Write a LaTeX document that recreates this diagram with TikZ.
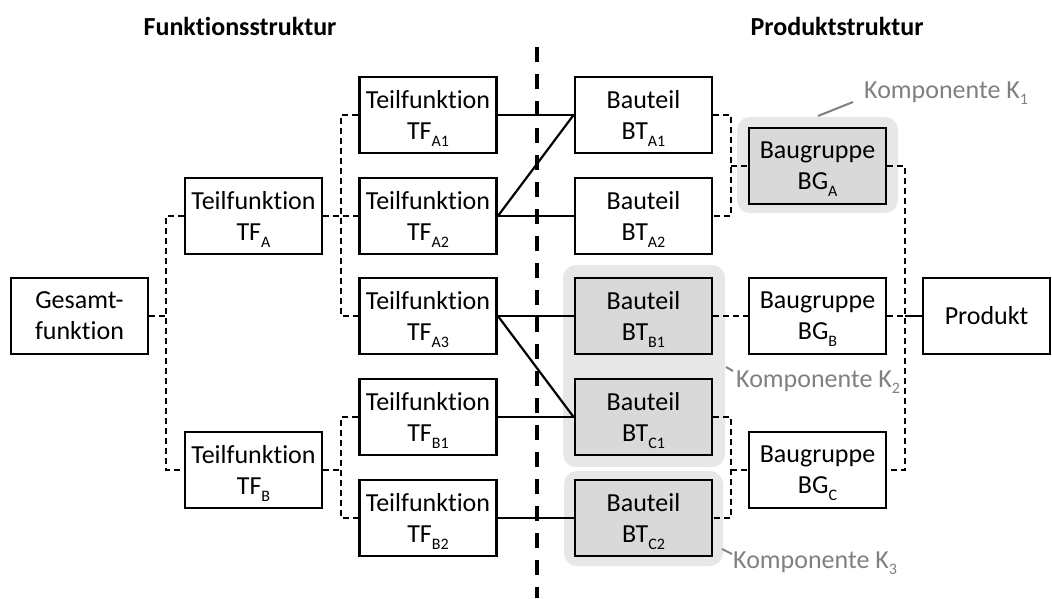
\documentclass[tikz,border=0pt]{standalone}
\usepackage{fontspec}
\setmainfont[Ligatures=NoCommon]{Carlito}
\definecolor{partgray}{RGB}{217,217,217}
\definecolor{compgray}{RGB}{230,231,230}
\definecolor{notegray}{RGB}{128,128,128}
% lowered index as used in the part and function names
\newcommand\subidx[1]{\smash{\raisebox{-0.26em}{\fontsize{16}{16}\selectfont #1}}}
\begin{document}
\begin{tikzpicture}[x=1pt,y=-1pt,
  box/.style={draw, line width=2.8pt, minimum width=137pt, minimum height=76pt,
    inner sep=0pt, align=center, font=\fontsize{26}{31}\selectfont},
  part/.style={box, fill=partgray},
  comp/.style={fill=compgray, rounded corners=13pt},
  link/.style={line width=2.2pt},
  tree/.style={line width=2.2pt, dash pattern=on 6pt off 4pt},
  divider/.style={line width=4pt, dash pattern=on 15pt off 12pt},
  note/.style={text=notegray, inner sep=0pt, font=\fontsize{26}{30}\selectfont},
  pointer/.style={draw=notegray, line width=2pt},
  title/.style={inner sep=0pt, font=\fontsize{26}{30}\selectfont\bfseries}]
\useasboundingbox (0,0) rectangle (1052,598);

% component groupings behind the parts
\fill[comp] (737,117) rectangle (898,213);
\fill[comp] (563,265) rectangle (725,467);
\fill[comp] (564,471) rectangle (723,566);

% headings
\node[title] (hf) at (240,26) {Funktionsstruktur};
\node[title] (hp) at (837,26) {Produktstruktur};

% separation line between both structures
\coordinate (dtop) at (537,47);
\coordinate (dbot) at (537,598);
\draw[divider] (dtop) -- (dbot);

% function structure
\node[box] (ges) at (79.5,316) {Gesamt-\\funktion};
\node[box] (tfA) at (253.5,216) {Teilfunktion\\TF\subidx{A}};
\node[box] (tfB) at (253.5,470) {Teilfunktion\\TF\subidx{B}};
\node[box] (tfA1) at (428,115) {Teilfunktion\\TF\subidx{A1}};
\node[box] (tfA2) at (428,216) {Teilfunktion\\TF\subidx{A2}};
\node[box] (tfA3) at (428,316) {Teilfunktion\\TF\subidx{A3}};
\node[box] (tfB1) at (428,417) {Teilfunktion\\TF\subidx{B1}};
\node[box] (tfB2) at (428,518) {Teilfunktion\\TF\subidx{B2}};

% product structure
\node[box] (btA1) at (643.5,115) {Bauteil\\BT\subidx{A1}};
\node[box] (btA2) at (643.5,216) {Bauteil\\BT\subidx{A2}};
\node[part] (btB1) at (643.5,316) {Bauteil\\BT\subidx{B1}};
\node[part] (btC1) at (643.5,417) {Bauteil\\BT\subidx{C1}};
\node[part] (btC2) at (643.5,518) {Bauteil\\BT\subidx{C2}};
\node[part] (bgA) at (817.5,166) {Baugruppe\\BG\subidx{A}};
\node[box] (bgB) at (817.5,316) {Baugruppe\\BG\subidx{B}};
\node[box] (bgC) at (817.5,470) {Baugruppe\\BG\subidx{C}};
\node[box, minimum width=127pt] (prod) at (986.5,316) {Produkt};

% junction columns of the trees
\coordinate (jG) at (166,316);
\coordinate (jA) at (341,216);
\coordinate (jB) at (341,470);
\coordinate (jBA) at (731,166);
\coordinate (jBC) at (731,470);
\coordinate (jP) at (905,316);

% function tree
\draw[tree] (tfA.west) -| (jG) |- (tfB.west);
\draw[tree] (ges.east) -- (jG);
\draw[tree] (tfA1.west) -| (jA) |- (tfA3.west);
\draw[tree] (tfA.east) -- (tfA2.west);
\draw[tree] (tfB1.west) -| (jB) |- (tfB2.west);
\draw[tree] (tfB.east) -- (jB);

% product tree
\draw[tree] (btA1.east) -| (jBA) |- (btA2.east);
\draw[tree] (jBA) -- (bgA.west);
\draw[tree] (btC1.east) -| (jBC) |- (btC2.east);
\draw[tree] (jBC) -- (bgC.west);
\draw[tree] (btB1.east) -- (bgB.west);
\draw[tree] (bgA.east) -| (jP) |- (bgC.east);
\draw[tree] (bgB.east) -- (jP);
\draw[link] (jP) -- (prod.west);

% assignment of functions to parts
\draw[link] (tfA1.east) -- (btA1.west);
\draw[link] (tfA2.east) -- (btA2.west);
\draw[link] (tfA2.east) -- (btA1.west);
\draw[link] (tfA3.east) -- (btB1.west);
\draw[link] (tfA3.east) -- (btC1.west);
\draw[link] (tfB1.east) -- (btC1.west);
\draw[link] (tfB2.east) -- (btC2.west);

% component labels
\node[note, anchor=base west] (k1) at (864,98) {Komponente K\subidx{1}};
\node[note, anchor=base west] (k2) at (736,387) {Komponente K\subidx{2}};
\node[note, anchor=base west] (k3) at (733,568) {Komponente K\subidx{3}};
\coordinate (p1a) at (818,116);
\coordinate (p1b) at (853,102);
\coordinate (p2a) at (726,367);
\coordinate (p2b) at (733,371);
\coordinate (p3a) at (722,549);
\coordinate (p3b) at (732,554);
\draw[pointer] (p1a) -- (p1b);
\draw[pointer] (p2a) -- (p2b);
\draw[pointer] (p3a) -- (p3b);
\end{tikzpicture}
\end{document}
